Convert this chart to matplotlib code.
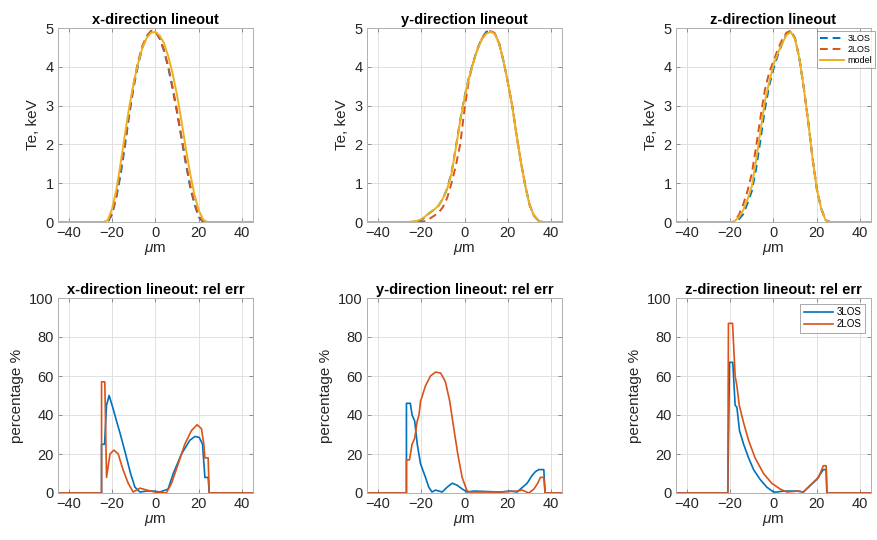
import matplotlib
matplotlib.use("Agg")
import matplotlib.pyplot as plt

plt.rcParams['font.family'] = ['Liberation Sans', 'DejaVu Sans']
plt.rcParams['mathtext.fontset'] = 'custom'
plt.rcParams['mathtext.it'] = 'Liberation Sans:italic'
plt.rcParams['mathtext.rm'] = 'Liberation Sans'

BLUE = '#0072BD'
ORANGE = '#D95319'
YELLOW = '#EDB120'

# ---------------- top row: Te lineouts (keV) ----------------
x_te_x = [-45, -24, -22, -20, -18, -16, -14, -12, -10, -8, -6, -4, -2, 0, 2, 4, 6, 8, 10, 12, 14, 16, 18, 20, 22, 24, 45]
model_x = [0, 0, 0.05, 0.35, 0.85, 1.55, 2.3, 3.0, 3.6, 4.1, 4.5, 4.75, 4.88, 4.9, 4.8, 4.6, 4.25, 3.8, 3.25, 2.6, 1.9, 1.25, 0.7, 0.3, 0.06, 0, 0]
los3_x = [0, 0, 0, 0.2, 0.65, 1.25, 2.0, 2.8, 3.5, 4.05, 4.5, 4.78, 4.92, 4.9, 4.72, 4.4, 3.95, 3.4, 2.8, 2.15, 1.5, 0.9, 0.45, 0.12, 0, 0, 0]
los2_x = [0, 0, 0.02, 0.25, 0.7, 1.35, 2.1, 2.9, 3.6, 4.15, 4.55, 4.8, 4.93, 4.9, 4.73, 4.42, 3.98, 3.45, 2.85, 2.2, 1.55, 0.95, 0.5, 0.15, 0, 0, 0]

x_te_y = [-45, -26, -22, -20, -18, -16, -14, -12, -10, -8, -6, -4, -2, 0, 2, 4, 6, 8, 10, 12, 14, 16, 18, 20, 22, 24, 26, 28, 30, 32, 34, 36, 45]
model_y = [0, 0, 0.03, 0.07, 0.15, 0.25, 0.32, 0.42, 0.6, 0.85, 1.25, 1.9, 2.6, 3.2, 3.7, 4.1, 4.45, 4.7, 4.85, 4.9, 4.85, 4.6, 4.15, 3.6, 3.0, 2.25, 1.55, 0.95, 0.45, 0.17, 0.04, 0, 0]
los3_y = [0, 0, 0, 0.05, 0.13, 0.24, 0.32, 0.42, 0.6, 0.86, 1.27, 1.92, 2.62, 3.22, 3.72, 4.12, 4.47, 4.73, 4.9, 4.93, 4.86, 4.6, 4.15, 3.6, 3.0, 2.25, 1.55, 0.95, 0.45, 0.17, 0.04, 0, 0]
los2_y = [0, 0, 0, 0, 0.03, 0.09, 0.16, 0.24, 0.38, 0.62, 1.0, 1.45, 2.0, 2.9, 3.65, 4.1, 4.45, 4.72, 4.88, 4.92, 4.86, 4.6, 4.15, 3.6, 3.0, 2.25, 1.55, 0.95, 0.45, 0.17, 0.04, 0, 0]

x_te_z = [-45, -19, -18, -16, -14, -12, -10, -8, -6, -4, -2, 0, 2, 4, 6, 8, 10, 12, 14, 16, 18, 20, 22, 24, 26, 45]
model_z = [0, 0, 0.02, 0.12, 0.3, 0.58, 0.92, 1.6, 2.35, 3.1, 3.6, 4.05, 4.35, 4.6, 4.82, 4.9, 4.7, 4.2, 3.45, 2.6, 1.65, 0.85, 0.35, 0.05, 0, 0]
los3_z = [0, 0, 0, 0.07, 0.2, 0.48, 0.8, 1.38, 2.12, 2.9, 3.5, 3.95, 4.3, 4.6, 4.85, 4.93, 4.72, 4.2, 3.45, 2.6, 1.65, 0.85, 0.35, 0.05, 0, 0]
los2_z = [0, 0, 0.02, 0.18, 0.45, 0.8, 1.25, 1.95, 2.7, 3.4, 3.85, 4.15, 4.45, 4.7, 4.88, 4.93, 4.72, 4.2, 3.45, 2.6, 1.65, 0.85, 0.35, 0.05, 0, 0]

# ---------------- bottom row: relative error (%) ----------------
ex_3x = [-45, -24.9, -24.9, -23.5, -22.6, -21.4, -19.5, -18, -16.2, -13.8, -11.5, -9.5, -7.2, -4, -1, 2, 5.8, 8.2, 12, 15.8, 18.2, 20.2, 21.7, 22.8, 24.3, 24.8, 45]
err3_x = [0, 0, 25, 25, 45, 50, 43, 37, 30, 20, 10, 3, 0.5, 1, 1, 0.5, 2, 10, 20, 27, 29, 28.5, 25, 8, 8, 0, 0]
ex_2x = [-45, -24.9, -24.9, -23.4, -22.6, -21, -19.2, -17.2, -15, -12.6, -10.3, -7.2, -4, -0.3, 5, 7.4, 10.5, 13.5, 16.6, 19.2, 21.2, 22.3, 22.8, 24.3, 24.8, 45]
err2_x = [0, 0, 57, 57, 8, 20, 22, 20, 12, 5, 0.5, 2.5, 1.5, 0.5, 0, 5, 15, 25, 32, 35, 33, 25, 18, 18, 0, 0]

ey_3x = [-45, -26.8, -26.8, -25, -24.2, -23, -21.8, -20.3, -18, -16.5, -15, -13.4, -11.8, -10.3, -8, -5.7, -3.4, -1, 1.2, 4.3, 16.6, 21.2, 24.3, 25.8, 28.9, 31.2, 32.8, 34.3, 36.6, 37.2, 45]
err3_y = [0, 0, 46, 46, 40, 37, 25, 15, 8, 3, 0.5, 1.5, 1, 0.5, 3, 5, 4, 2, 0.5, 1, 0.5, 1, 0.5, 2, 5, 9, 11, 12, 12, 0, 0]
ey_2x = [-45, -26.8, -26.8, -25.4, -24.2, -23, -21.8, -21, -20.3, -18, -15.7, -13.4, -11, -8.8, -6.8, -5.2, -3.1, -1.1, 1.2, 2.8, 16.6, 24.3, 26.6, 29.7, 32, 33.8, 35, 36.6, 37.2, 45]
err2_y = [0, 0, 17, 17, 25, 28, 37, 40, 47, 55, 60, 62, 61.5, 57, 47, 35, 20, 8, 1, 0.5, 0.5, 1, 1.5, 0, 2, 5, 8, 8, 0, 0]

ez_3x = [-45, -21.1, -20.3, -18.8, -17.7, -16.9, -15.7, -13.8, -11.5, -9.2, -6.2, -3.1, 0, 1.5, 4.6, 10.8, 13.8, 16.2, 20, 21.8, 23, 24.3, 24.6, 45]
err3_z = [0, 0, 67, 67, 45, 44, 32, 25, 18, 12, 7, 3, 0.5, 0.5, 1, 1, 0.5, 3, 7, 10, 12, 12, 0, 0]
ez_2x = [-45, -21.1, -20.8, -18.9, -17.7, -16.9, -15.8, -13.8, -11.5, -8.5, -4.6, -0.8, 3.1, 6.2, 11.5, 13.8, 16.9, 20.8, 21.5, 23, 24.3, 24.7, 45]
err2_z = [0, 0, 87, 87, 60, 55, 45, 36, 27, 18, 10, 5, 2, 0.5, 1, 0.5, 4, 8, 10, 14, 14, 0, 0]

titles_top = ['x-direction lineout', 'y-direction lineout', 'z-direction lineout']
titles_bot = ['x-direction lineout: rel err', 'y-direction lineout: rel err', 'z-direction lineout: rel err']
xticks = [-40, -20, 0, 20, 40]

fig = plt.figure(figsize=(8.78, 5.40), dpi=100)
lefts = [58/878, 367/878, 676/878]
w = 195/878
top_b, top_h = 1 - 222/540, 194/540
bot_b, bot_h = 1 - 493/540, 195/540

TXT = '#262626'
DASH = (0, (4, 2.5))

def style(ax):
    ax.set_xlim(-45, 45)
    ax.set_xticks(xticks)
    ax.grid(True, color='#dcdcdc', linewidth=0.6)
    ax.set_axisbelow(True)
    for s in ax.spines.values():
        s.set_color('#b0b0b0')
        s.set_linewidth(0.7)
    ax.tick_params(direction='in', length=3, width=0.6, color='#808080',
                   labelsize=10.5, labelcolor=TXT, pad=3, top=True, right=True)
    ax.set_xlabel(r'$\mathit{\mu}$m', fontsize=11, color=TXT, labelpad=1)

top_data = [(x_te_x, los3_x, los2_x, model_x), (x_te_y, los3_y, los2_y, model_y), (x_te_z, los3_z, los2_z, model_z)]
for i in range(3):
    ax = fig.add_axes([lefts[i], top_b, w, top_h])
    xx, a, b, m = top_data[i]
    l1, = ax.plot(xx, a, color=BLUE, lw=1.4, ls=DASH, label='3LOS')
    l2, = ax.plot(xx, b, color=ORANGE, lw=1.4, ls=DASH, label='2LOS')
    l3, = ax.plot(xx, m, color=YELLOW, lw=1.4, label='model')
    ax.set_ylim(0, 5)
    ax.set_yticks([0, 1, 2, 3, 4, 5])
    style(ax)
    ax.set_ylabel('Te, keV', fontsize=11, color=TXT, labelpad=4)
    ax.set_title(titles_top[i], fontsize=10.5, fontweight='bold', pad=3)
    if i == 2:
        leg = fig.legend(handles=[l1, l2, l3], loc='upper left',
                         bbox_to_anchor=(817/878, 1 - 31/540), fontsize=6.5,
                         frameon=True, fancybox=False, borderpad=0.3,
                         labelspacing=0.25, handlelength=2.7, handletextpad=0.4,
                         borderaxespad=0)
        leg.get_frame().set_edgecolor('#808080')
        leg.get_frame().set_linewidth(0.6)

bot_data = [(ex_3x, err3_x, ex_2x, err2_x), (ey_3x, err3_y, ey_2x, err2_y), (ez_3x, err3_z, ez_2x, err2_z)]
for i in range(3):
    ax = fig.add_axes([lefts[i], bot_b, w, bot_h])
    xa, a, xb, b = bot_data[i]
    l1, = ax.plot(xa, a, color=BLUE, lw=1.2, label='3LOS')
    l2, = ax.plot(xb, b, color=ORANGE, lw=1.2, label='2LOS')
    ax.set_ylim(0, 100)
    ax.set_yticks([0, 20, 40, 60, 80, 100])
    style(ax)
    ax.set_ylabel('percentage %', fontsize=11, color=TXT, labelpad=4)
    ax.set_title(titles_bot[i], fontsize=10.5, fontweight='bold', pad=3)
    if i == 2:
        leg = ax.legend(handles=[l1, l2], loc='upper right', fontsize=7,
                        frameon=True, fancybox=False, borderpad=0.35,
                        labelspacing=0.2, handlelength=3.0, handletextpad=0.4,
                        borderaxespad=0.6)
        leg.get_frame().set_edgecolor('#808080')
        leg.get_frame().set_linewidth(0.6)

fig.savefig('out.png', dpi=100)
